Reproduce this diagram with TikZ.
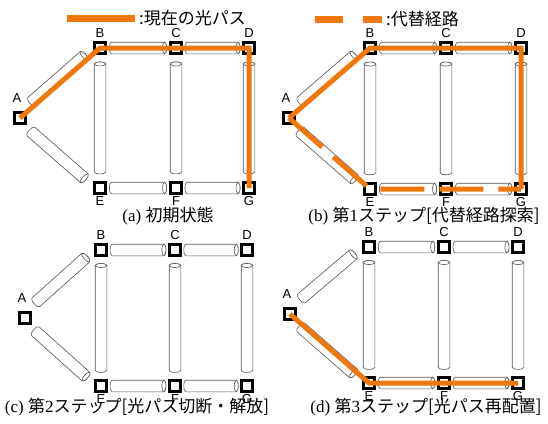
\documentclass[tikz,border=0pt]{standalone}
\usepackage{fontspec}
\setmainfont{Liberation Serif}
\newfontfamily\cjk{Noto Sans CJK JP}
\newfontfamily\labfont{Liberation Sans}
\usetikzlibrary{calc}
\pgfdeclarelayer{back}
\pgfdeclarelayer{bg}
\pgfsetlayers{back,bg,main}
\definecolor{opt}{RGB}{240,120,10}
\definecolor{tubeline}{RGB}{85,85,85}
\tikzset{
  sq/.style={draw=black, fill=white, line width=2.5pt, minimum size=11pt, inner sep=0pt},
  lbl/.style={font=\labfont\fontsize{13}{13}\selectfont, inner sep=0pt},
  tubepen/.style={draw=tubeline, fill=white, line width=0.6pt},
  opath/.style={draw=opt, line width=5pt, line join=miter},
  altpath/.style={opath, dash pattern=on 44pt off 15pt},
  legline/.style={draw=opt, line width=7pt},
  captxt/.style={font=\fontsize{17}{20}\selectfont, inner sep=0pt},
  legtxt/.style={font=\cjk\fontsize{17}{20}\selectfont, inner sep=0pt, anchor=west},
}
\def\tr{5.8pt}
\def\te{2pt}
% #1,#2 nodes; #3,#4 fractions; #5 offset; #6 offset angle
\newcommand\tube[6]{%
  \path ($(#1)!#3!(#2)!#5!#6:(#2)$) coordinate (tubeS);
  \path ($(#1)!#4!(#2)!#5!#6:(#2)$) coordinate (tubeE);
  \path (tubeS); \pgfgetlastxy{\tsx}{\tsy}%
  \path (tubeE); \pgfgetlastxy{\tex}{\tey}%
  \pgfmathsetmacro\tang{atan2(\tey-\tsy,\tex-\tsx)}%
  \pgfmathsetmacro\tlen{veclen(\tex-\tsx,\tey-\tsy)}%
  \begin{scope}[shift={(\tsx,\tsy)}, rotate=\tang]
    \filldraw[tubepen] (0pt,\tr) -- (\tlen pt,\tr)
      arc[start angle=90, end angle=-90, x radius=\te, y radius=\tr]
      -- (0pt,-\tr)
      arc[start angle=270, end angle=90, x radius=\te, y radius=\tr] -- cycle;
    \draw[tubepen] (\tlen pt,0pt) ellipse[x radius=\te, y radius=\tr];
  \end{scope}}
% #1 prefix, A=(#2,#3), B=(#4,#5), C x=#6, D x=#7, E y=#8
\newcommand\panel[8]{%
  \node[sq] (#1A) at (#2,#3) {};
  \node[sq] (#1B) at (#4,#5) {};
  \node[sq] (#1C) at (#6,#5) {};
  \node[sq] (#1D) at (#7,#5) {};
  \node[sq] (#1E) at (#4,#8) {};
  \node[sq] (#1F) at (#6,#8) {};
  \node[sq] (#1G) at (#7,#8) {};
  \node[lbl] (#1lA) at ($(#1A)+(-3,-20)$) {A};
  \node[lbl] (#1lB) at ($(#1B)+(0,-15)$) {B};
  \node[lbl] (#1lC) at ($(#1C)+(0,-15)$) {C};
  \node[lbl] (#1lD) at ($(#1D)+(0,-15)$) {D};
  \node[lbl] (#1lE) at ($(#1E)+(0,13)$) {E};
  \node[lbl] (#1lF) at ($(#1F)+(0,13)$) {F};
  \node[lbl] (#1lG) at ($(#1G)+(0,13)$) {G};
  \begin{pgfonlayer}{bg}
    \tube{#1A}{#1B}{0.18}{0.84}{4.5pt}{90}
    \tube{#1A}{#1E}{0.16}{0.83}{3pt}{-90}
    \tube{#1B}{#1C}{0.15}{0.85}{0pt}{90}
    \tube{#1C}{#1D}{0.15}{0.85}{0pt}{90}
    \tube{#1E}{#1F}{0.15}{0.85}{0pt}{90}
    \tube{#1F}{#1G}{0.15}{0.85}{0pt}{90}
    \tube{#1E}{#1B}{0.115}{0.886}{0pt}{90}
    \tube{#1F}{#1C}{0.115}{0.886}{0pt}{90}
    \tube{#1G}{#1D}{0.115}{0.886}{0pt}{90}
  \end{pgfonlayer}}
\begin{document}
\begin{tikzpicture}[x=1pt,y=-1pt]
  \begin{pgfonlayer}{back}
    \fill[white] (0,0) rectangle (548,423);
  \end{pgfonlayer}
  \useasboundingbox (0,0) rectangle (548,423);
  % legend
  \coordinate (l1s) at (67,18);
  \coordinate (l1e) at (135,18);
  \draw[legline] (l1s) -- (l1e);
  \node[legtxt] (leg1) at (139,18) {:現在の光パス};
  \coordinate (l2a) at (315,19);
  \coordinate (l2b) at (343,19);
  \coordinate (l2c) at (363,19);
  \coordinate (l2d) at (382,19);
  \draw[legline] (l2a) -- (l2b);
  \draw[legline] (l2c) -- (l2d);
  \node[legtxt] (leg2) at (386,19) {:代替経路};
  % panels
  \panel{a}{20}{118}{100}{48}{176}{249}{188}
  \panel{b}{289}{118}{370}{48}{446}{521}{189}
  \panel{c}{25}{318}{101}{250}{175}{247}{386}
  \panel{d}{290}{314}{369}{247}{444}{518}{383}
  % optical paths
  \draw[opath] (aA.center) -- (aB.center) -- (aD.center) -- (aG.center);
  \draw[altpath] (bA.center) -- (bE.center) -- (bG.center);
  \draw[opath] (bA.center) -- (bB.center) -- (bD.center) -- (bG.center);
  \draw[opath] (dA.center) -- (dE.center) -- (dG.center);
  % captions
  \node[captxt] (capa) at (168,216) {(a) {\cjk 初期状態}};
  \node[captxt] (capb) at (424,216) {(b) {\cjk 第}1{\cjk ステップ[代替経路探索]}};
  \node[captxt] (capc) at (137,407) {(c) {\cjk 第}2{\cjk ステップ[光パス切断・解放]}};
  \node[captxt] (capd) at (426,407) {(d) {\cjk 第}3{\cjk ステップ[光パス再配置]}};
\end{tikzpicture}
\end{document}
